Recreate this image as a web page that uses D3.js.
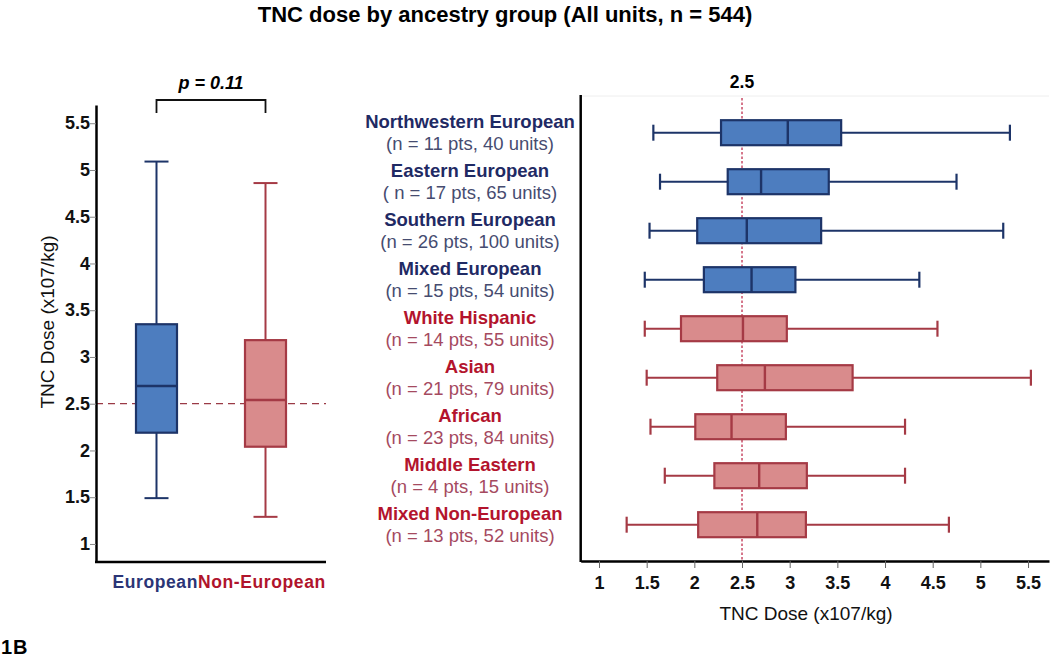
<!DOCTYPE html>
<html><head><meta charset="utf-8">
<script src="https://cdn.jsdelivr.net/npm/d3@7"></script>
<style>body{margin:0;background:#fff}svg{display:block;font-family:"Liberation Sans",Arial,sans-serif}</style>
</head><body><svg id="c" width="1050" height="663"></svg>
<script>
// ---- data ----
const overallGroups = ["European", "Non-European"];
const overallLow = [1.49, 1.29];
const overallQ1 = [2.19, 2.04];
const overallMedian = [2.69, 2.54];
const overallQ3 = [3.35, 3.18];
const overallHigh = [5.09, 4.86];

const groups = ["Northwestern European","Eastern European","Southern European","Mixed European","White Hispanic","Asian","African","Middle Eastern","Mixed Non-European"];
const subLabels = ["(n = 11 pts, 40 units)","( n = 17 pts, 65 units)","(n = 26 pts, 100 units)","(n = 15 pts, 54 units)","(n = 14 pts, 55 units)","(n = 21 pts, 79 units)","(n = 23 pts, 84 units)","(n = 4 pts, 15 units)","(n = 13 pts, 52 units)"];
const isEuropean = [true,true,true,true,false,false,false,false,false];
const low =    [1.57, 1.64, 1.53, 1.48, 1.48, 1.50, 1.54, 1.69, 1.29];
const q1 =     [2.28, 2.35, 2.03, 2.10, 1.86, 2.24, 2.01, 2.21, 2.04];
const median = [2.98, 2.70, 2.55, 2.60, 2.51, 2.74, 2.39, 2.68, 2.66];
const q3 =     [3.54, 3.41, 3.33, 3.06, 2.97, 3.66, 2.96, 3.18, 3.17];
const high =   [5.31, 4.75, 5.24, 4.36, 4.55, 5.53, 4.21, 4.21, 4.67];

const yTicks = [1,1.5,2,2.5,3,3.5,4,4.5,5,5.5];
const xTicks = [1,1.5,2,2.5,3,3.5,4,4.5,5,5.5];
const refValue = 2.5;
const pText = "p = 0.11";
const titleText = "TNC dose by ancestry group (All units, n = 544)";
const axisTitle = "TNC Dose (x107/kg)";

// ---- styles ----
const C = {
  blueFill:"#4d7dbf", blueStroke:"#1d3468", redFill:"#d98b8c", redStroke:"#a53a45",
  blueName:"#1f2a64", blueSub:"#464c70", redName:"#b3142d", redSub:"#a54a5f"
};
const fmt = d => String(d);
const svg = d3.select("#c");

// title
svg.append("text").attr("x",505).attr("y",22).attr("text-anchor","middle")
  .attr("font-size",22).attr("font-weight","bold").text(titleText);
svg.append("text").attr("x",1).attr("y",654).attr("font-size",20).attr("font-weight","bold")
  .attr("letter-spacing",1).text("1B");

// ===== Left panel =====
const yL = d3.scaleLinear().domain([0.807,5.695]).range([562,105]);
const xL = d3.scalePoint().domain(overallGroups).range([96,326]).padding(0.555);
const L = svg.append("g");
L.append("line").attr("x1",96).attr("x2",326).attr("y1",yL(refValue)).attr("y2",yL(refValue))
  .attr("stroke","#9a3a46").attr("stroke-width",1.3).attr("stroke-dasharray","7,5");
const bw = 41, capL = 24;
overallGroups.forEach((g,i)=>{
  const cx = xL(g), eu = i===0;
  const st = eu?C.blueStroke:C.redStroke, fi = eu?C.blueFill:C.redFill;
  L.append("line").attr("x1",cx).attr("x2",cx).attr("y1",yL(overallHigh[i])).attr("y2",yL(overallQ3[i])).attr("stroke",st).attr("stroke-width",2);
  L.append("line").attr("x1",cx).attr("x2",cx).attr("y1",yL(overallQ1[i])).attr("y2",yL(overallLow[i])).attr("stroke",st).attr("stroke-width",2);
  [overallHigh[i],overallLow[i]].forEach(v=>L.append("line").attr("x1",cx-capL/2).attr("x2",cx+capL/2).attr("y1",yL(v)).attr("y2",yL(v)).attr("stroke",st).attr("stroke-width",2));
  L.append("rect").attr("x",cx-bw/2).attr("width",bw).attr("y",yL(overallQ3[i])).attr("height",yL(overallQ1[i])-yL(overallQ3[i]))
    .attr("fill",fi).attr("stroke",st).attr("stroke-width",2.2);
  L.append("line").attr("x1",cx-bw/2).attr("x2",cx+bw/2).attr("y1",yL(overallMedian[i])).attr("y2",yL(overallMedian[i])).attr("stroke",st).attr("stroke-width",2.4);
});
const yAxisL = L.append("g").attr("transform","translate(96,0)")
  .call(d3.axisLeft(yL).tickValues(yTicks).tickFormat(fmt).tickSize(6).tickSizeOuter(0));
yAxisL.select(".domain").attr("stroke","#000").attr("stroke-width",2.5);
yAxisL.selectAll(".tick line").attr("stroke","#888");
yAxisL.selectAll("text").attr("font-size",18).attr("font-weight","bold").attr("fill","#111").attr("x",-6).attr("font-family","Liberation Sans, Arial");
L.append("line").attr("x1",95).attr("x2",326).attr("y1",562).attr("y2",562).attr("stroke","#000").attr("stroke-width",2.5);
L.append("text").attr("transform","translate(54,322) rotate(-90)").attr("text-anchor","middle")
  .attr("font-size",19).attr("fill","#111").text(axisTitle);
L.append("text").attr("x",198).attr("y",588).attr("text-anchor","end").attr("font-size",17.5).attr("font-weight","bold")
  .attr("letter-spacing",0.6).attr("fill","#2b3576").text(overallGroups[0]);
L.append("text").attr("x",198).attr("y",588).attr("text-anchor","start").attr("font-size",17.5).attr("font-weight","bold")
  .attr("letter-spacing",0.6).attr("fill","#b0142c").text(overallGroups[1]);
const bx1 = xL(overallGroups[0]), bx2 = xL(overallGroups[1]);
L.append("path").attr("d",`M${bx1},113V100H${bx2}V113`).attr("fill","none").attr("stroke","#111").attr("stroke-width",1.8);
L.append("text").attr("x",(bx1+bx2)/2).attr("y",89).attr("text-anchor","middle").attr("font-size",18)
  .attr("font-weight","bold").attr("font-style","italic").text(pText);

// ===== Right panel =====
const xR = d3.scaleLinear().domain([0.808,5.72]).range([580.7,1049]);
const yR = d3.scalePoint().domain(groups).range([132.7,524.7]);
const R = svg.append("g");
R.append("line").attr("x1",581).attr("x2",1049).attr("y1",96).attr("y2",96).attr("stroke","#eeeeee").attr("stroke-width",1);
R.append("line").attr("x1",xR(refValue)).attr("x2",xR(refValue)).attr("y1",98).attr("y2",561)
  .attr("stroke","#c0304f").attr("stroke-width",1.3).attr("stroke-dasharray","2.5,2");
R.append("text").attr("x",xR(refValue)).attr("y",88).attr("text-anchor","middle").attr("font-size",17.5).attr("font-weight","bold").text(fmt(refValue));
const bh = 25, capR = 16;
groups.forEach((g,i)=>{
  const cy = yR(g), eu = isEuropean[i];
  const st = eu?C.blueStroke:C.redStroke, fi = eu?C.blueFill:C.redFill;
  R.append("line").attr("x1",xR(low[i])).attr("x2",xR(high[i])).attr("y1",cy).attr("y2",cy).attr("stroke",st).attr("stroke-width",2);
  [low[i],high[i]].forEach(v=>R.append("line").attr("x1",xR(v)).attr("x2",xR(v)).attr("y1",cy-capR/2).attr("y2",cy+capR/2).attr("stroke",st).attr("stroke-width",2.2));
  R.append("rect").attr("x",xR(q1[i])).attr("width",xR(q3[i])-xR(q1[i])).attr("y",cy-bh/2).attr("height",bh)
    .attr("fill",fi).attr("stroke",st).attr("stroke-width",2.2);
  R.append("line").attr("x1",xR(median[i])).attr("x2",xR(median[i])).attr("y1",cy-bh/2).attr("y2",cy+bh/2).attr("stroke",st).attr("stroke-width",2.4);
  R.append("text").attr("x",470).attr("y",cy-5).attr("text-anchor","middle").attr("font-size",18.5).attr("font-weight","bold")
    .attr("fill",eu?C.blueName:C.redName).text(g);
  R.append("text").attr("x",470).attr("y",cy+17).attr("text-anchor","middle").attr("font-size",18.5)
    .attr("fill",eu?C.blueSub:C.redSub).text(subLabels[i]);
});
const xAxisR = R.append("g").attr("transform","translate(0,561)")
  .call(d3.axisBottom(xR).tickValues(xTicks).tickFormat(fmt).tickSize(7).tickSizeOuter(0));
xAxisR.select(".domain").attr("stroke","#000").attr("stroke-width",2.5);
xAxisR.selectAll(".tick line").attr("stroke","#666");
xAxisR.selectAll("text").attr("font-size",18).attr("font-weight","bold").attr("fill","#111").attr("y",15).attr("font-family","Liberation Sans, Arial");
R.append("line").attr("x1",580.7).attr("x2",580.7).attr("y1",95).attr("y2",562).attr("stroke","#000").attr("stroke-width",2.5);
R.append("text").attr("x",806).attr("y",620).attr("text-anchor","middle").attr("font-size",19).attr("fill","#111").text(axisTitle);
</script></body></html>
